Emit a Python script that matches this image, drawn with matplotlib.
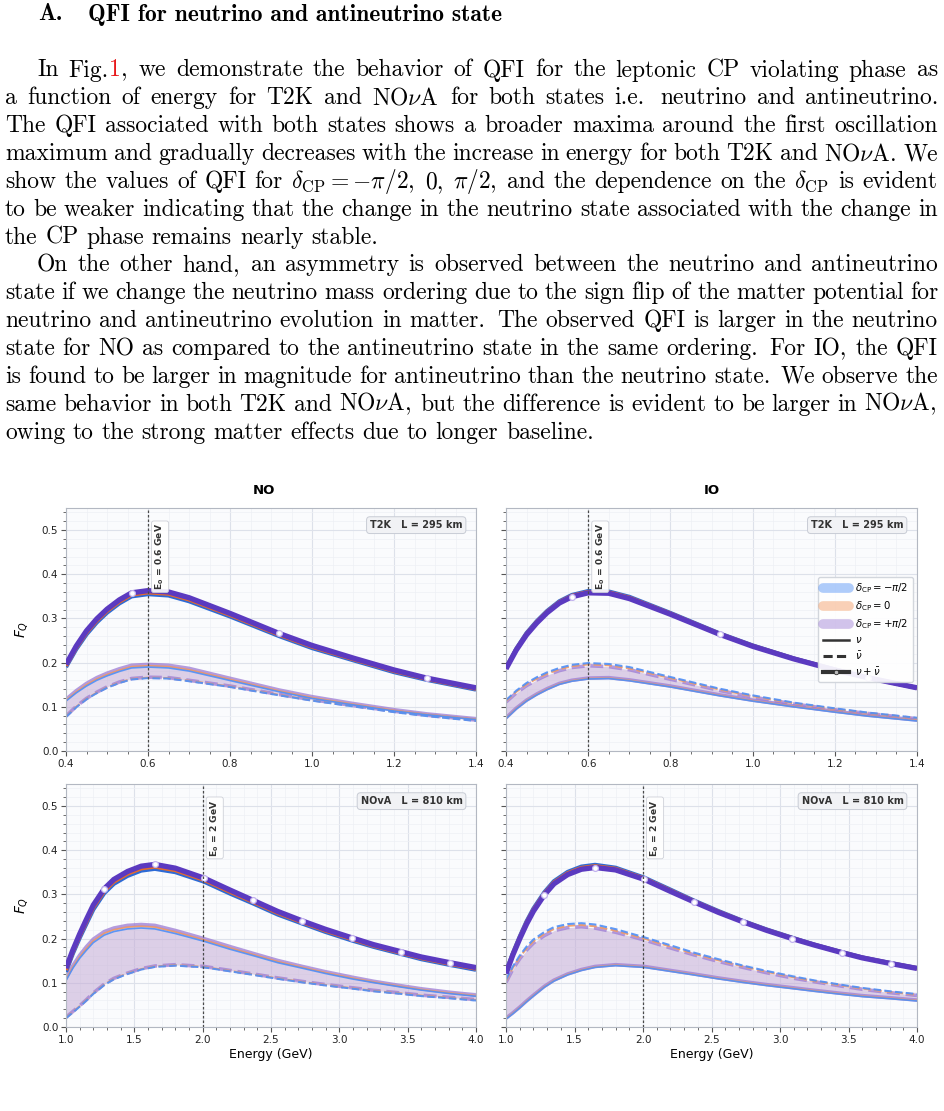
import numpy as np
import matplotlib
matplotlib.use("Agg")
import matplotlib.pyplot as plt
from matplotlib.ticker import AutoMinorLocator, MultipleLocator
from matplotlib.lines import Line2D

# ------------------------------------------------------------------ data
E_T2K = [0.40, 0.425, 0.45, 0.475, 0.50, 0.53, 0.56, 0.60, 0.65, 0.70,
         0.80, 0.92, 1.00, 1.10, 1.20, 1.28, 1.40]
E_NOVA = [1.00, 1.05, 1.10, 1.15, 1.20, 1.28, 1.35, 1.45, 1.55, 1.65, 1.80,
          2.01, 2.20, 2.37, 2.55, 2.73, 2.90, 3.09, 3.25, 3.45, 3.60, 3.81, 4.00]
T2K_MARK_IDX = [6, 11, 15]
NOVA_MARK_IDX = [5, 9, 11, 13, 15, 17, 19, 21]

# NO, T2K  (delta_CP = 0 curve and half-spread of the three delta_CP curves)
NO_T2K_NU = [0.115, 0.134, 0.150, 0.163, 0.173, 0.183, 0.191, 0.193, 0.191, 0.184,
             0.162, 0.136, 0.121, 0.106, 0.092, 0.083, 0.072]
NO_T2K_NUBAR = [0.078, 0.100, 0.118, 0.132, 0.144, 0.155, 0.163, 0.166, 0.165, 0.159,
                0.146, 0.127, 0.115, 0.102, 0.089, 0.080, 0.069]
NO_T2K_NU_SPREAD = [0.002, 0.0025, 0.003, 0.003, 0.003, 0.003, 0.003, 0.003, 0.003,
                    0.003, 0.0025, 0.002, 0.002, 0.0015, 0.0015, 0.001, 0.001]
NO_T2K_NUBAR_SPREAD = [0.001, 0.001, 0.001, 0.001, 0.001, 0.001, 0.001, 0.001, 0.001,
                       0.001, 0.001, 0.001, 0.001, 0.001, 0.001, 0.001, 0.001]

# IO, T2K
IO_T2K_NU = [0.074, 0.096, 0.114, 0.128, 0.140, 0.152, 0.159, 0.164, 0.165, 0.160,
             0.146, 0.126, 0.114, 0.101, 0.089, 0.080, 0.069]
IO_T2K_NUBAR = [0.113, 0.134, 0.151, 0.164, 0.175, 0.185, 0.192, 0.196, 0.194, 0.187,
                0.165, 0.139, 0.124, 0.108, 0.095, 0.086, 0.074]
IO_T2K_NU_SPREAD = [0.001, 0.001, 0.001, 0.001, 0.001, 0.001, 0.001, 0.001, 0.001,
                    0.001, 0.001, 0.001, 0.001, 0.001, 0.001, 0.001, 0.001]
IO_T2K_NUBAR_SPREAD = [-0.002, -0.0025, -0.003, -0.003, -0.003, -0.003, -0.003, -0.003,
                       -0.003, -0.003, -0.0025, -0.002, -0.002, -0.0015, -0.0015,
                       -0.001, -0.001]

# NO, NOvA
NO_NOVA_NU = [0.108, 0.136, 0.159, 0.178, 0.195, 0.212, 0.220, 0.226, 0.228, 0.226,
              0.215, 0.197, 0.179, 0.164, 0.148, 0.135, 0.123, 0.111, 0.102, 0.092,
              0.085, 0.077, 0.071]
NO_NOVA_NUBAR = [0.021, 0.034, 0.047, 0.061, 0.076, 0.096, 0.109, 0.121, 0.131, 0.137,
                 0.140, 0.136, 0.127, 0.119, 0.110, 0.102, 0.095, 0.088, 0.082, 0.076,
                 0.071, 0.066, 0.061]
NO_NOVA_NU_SPREAD = [0.003, 0.003, 0.0035, 0.004, 0.004, 0.004, 0.004, 0.004, 0.004,
                     0.004, 0.0035, 0.003, 0.003, 0.0025, 0.0025, 0.002, 0.002, 0.002,
                     0.0015, 0.0015, 0.0015, 0.0015, 0.0015]
NO_NOVA_NUBAR_SPREAD = [0.001, 0.001, 0.001, 0.001, 0.001, 0.001, 0.001, 0.001, 0.001,
                        0.001, 0.001, 0.001, 0.001, 0.001, 0.001, 0.001, 0.001, 0.001,
                        0.001, 0.001, 0.001, 0.001, 0.001]

# IO, NOvA
IO_NOVA_NU = [0.019, 0.031, 0.044, 0.058, 0.071, 0.091, 0.105, 0.119, 0.129, 0.136,
              0.140, 0.136, 0.127, 0.119, 0.110, 0.102, 0.095, 0.088, 0.082, 0.075,
              0.070, 0.065, 0.060]
IO_NOVA_NUBAR = [0.104, 0.134, 0.158, 0.178, 0.194, 0.211, 0.222, 0.229, 0.231, 0.228,
                 0.218, 0.200, 0.182, 0.166, 0.151, 0.137, 0.125, 0.113, 0.104, 0.094,
                 0.087, 0.079, 0.073]
IO_NOVA_NU_SPREAD = [0.001, 0.001, 0.001, 0.001, 0.001, 0.001, 0.001, 0.001, 0.001,
                     0.001, 0.001, 0.001, 0.001, 0.001, 0.001, 0.001, 0.001, 0.001,
                     0.001, 0.001, 0.001, 0.001, 0.001]
IO_NOVA_NUBAR_SPREAD = [-0.003, -0.003, -0.0035, -0.004, -0.004, -0.004, -0.004, -0.004,
                        -0.004, -0.004, -0.0035, -0.003, -0.003, -0.0025, -0.0025,
                        -0.002, -0.002, -0.002, -0.0015, -0.0015, -0.0015, -0.0015,
                        -0.0015]

DELTA_LABELS = [r"$\delta_{\rm CP} = -\pi/2$", r"$\delta_{\rm CP} = 0$",
                r"$\delta_{\rm CP} = +\pi/2$"]
STATE_LABELS = [r"$\nu$", r"$\bar{\nu}$", r"$\nu + \bar{\nu}$"]
COLUMN_TITLES = ["NO", "IO"]
EXPERIMENTS = ["T2K   L = 295 km", "NOvA   L = 810 km"]
E0_VALUES = [0.6, 2.0]
E0_LABELS = [r"E$_\mathbf{0}$ = 0.6 GeV", r"E$_\mathbf{0}$ = 2 GeV"]
XLABEL = "Energy (GeV)"
YLABEL = r"$F_Q$"

HEADING_NUM = "A."
HEADING = "QFI for neutrino and antineutrino state"
# (first line of paragraph?, justified?, text)  -- text between § is a red link
BODY_LINES = [
    (True, True, "In Fig.§1§, we demonstrate the behavior of QFI for the leptonic CP violating phase as"),
    (False, True, r"a function of energy for T2K and NO$\nu$A for both states i.e. neutrino and antineutrino."),
    (False, True, "The QFI associated with both states shows a broader maxima around the first oscillation"),
    (False, True, r"maximum and gradually decreases with the increase in energy for both T2K and NO$\nu$A. We"),
    (False, True, r"show the values of QFI for $\delta_\mathrm{CP}=-\pi/2$, 0, $\pi/2$, and the dependence on the $\delta_\mathrm{CP}$ is evident"),
    (False, True, "to be weaker indicating that the change in the neutrino state associated with the change in"),
    (False, False, "the CP phase remains nearly stable."),
    (True, True, "On the other hand, an asymmetry is observed between the neutrino and antineutrino"),
    (False, True, "state if we change the neutrino mass ordering due to the sign flip of the matter potential for"),
    (False, True, "neutrino and antineutrino evolution in matter. The observed QFI is larger in the neutrino"),
    (False, True, "state for NO as compared to the antineutrino state in the same ordering. For IO, the QFI"),
    (False, True, "is found to be larger in magnitude for antineutrino than the neutrino state. We observe the"),
    (False, True, r"same behavior in both T2K and NO$\nu$A, but the difference is evident to be larger in NO$\nu$A,"),
    (False, False, "owing to the strong matter effects due to longer baseline."),
]

# ------------------------------------------------------------------ style
W, H = 944, 1111
BLUE_T, ORANGE_T, PURPLE_T = "#4f8ff7", "#f39a62", "#9c7bd4"
BLUE_S, ORANGE_S, PURPLE_S = "#2c6ad6", "#e56a2c", "#5b3ac0"
FILL = "#c4acd6"
AX_BG = "#fafbfd"

fig = plt.figure(figsize=(W / 100, H / 100), dpi=100)
fig.patch.set_facecolor("white")
renderer = fig.canvas.get_renderer()


def fx(x):
    return x / W


def fy(y):
    return 1 - y / H


# ------------------------------------------------------------------ body text
BODY_FAM = "cmr10"
BOLD_FAM = "cmb10"
RED = "#e8191c"


def tw(s, size, fam):
    t = fig.text(0, 0, s, fontsize=size, family=fam, math_fontfamily="cm")
    w = t.get_window_extent(renderer=renderer).width
    t.remove()
    return w


def segments(word):
    parts = word.split("§")
    out = []
    for i, p in enumerate(parts):
        if p:
            out.append((p, RED if i % 2 == 1 else "black"))
    return out


def gap_weight(word):
    clean = word.replace("§", "").replace("$", "")
    if clean.endswith(".") and len(clean) > 1 and clean[-2].islower():
        return 1.5
    if clean.endswith(","):
        return 1.1
    return 1.0


LEFT, RIGHT, INDENT = 5.0, 938.0, 32.0
REF = 10.0
lines_words = [ln[2].split(" ") for ln in BODY_LINES]
seg_w10 = [[[tw(s, REF, BODY_FAM) for s, _ in segments(w)] for w in words]
           for words in lines_words]
space10 = 0.333 * REF * 100 / 72
cands = []
for (first, just, _), words, sw in zip(BODY_LINES, lines_words, seg_w10):
    if not just:
        continue
    avail = RIGHT - LEFT - (INDENT if first else 0)
    wsum = sum(sum(s) for s in sw)
    gw = sum(gap_weight(w) for w in words[:-1])
    cands.append(REF * avail / (wsum + gw * space10))
fs = float(np.median(cands))

y0, dy = 76.5, 27.85
for i, ((first, just, _), words, sw) in enumerate(zip(BODY_LINES, lines_words, seg_w10)):
    scale = fs / REF
    x = LEFT + (INDENT if first else 0)
    avail = RIGHT - x
    wsum = sum(sum(s) for s in sw) * scale
    weights = [gap_weight(w) for w in words[:-1]]
    if just:
        g = (avail - wsum) / sum(weights)
    else:
        g = 0.333 * fs * 100 / 72
    yb = y0 + i * dy
    for j, (w, s) in enumerate(zip(words, sw)):
        xx = x
        for (txt, col), ww in zip(segments(w), s):
            fig.text(fx(xx), fy(yb), txt, fontsize=fs, family=BODY_FAM,
                     math_fontfamily="cm", color=col, ha="left", va="baseline")
            xx += ww * scale
        x += sum(s) * scale
        if j < len(weights):
            x += g * weights[j]

fig.text(fx(38), fy(20.5), HEADING_NUM, fontsize=fs, family=BOLD_FAM,
         ha="left", va="baseline")
fig.text(fx(88), fy(20.5), HEADING, fontsize=fs, family=BOLD_FAM,
         ha="left", va="baseline")

# ------------------------------------------------------------------ chart
panels = [
    # (col, row, E, nu, nubar, s_nu, s_nubar, marks, xlim, xmajor)
    (0, 0, E_T2K, NO_T2K_NU, NO_T2K_NUBAR, NO_T2K_NU_SPREAD, NO_T2K_NUBAR_SPREAD,
     T2K_MARK_IDX, (0.4, 1.4), 0.2),
    (1, 0, E_T2K, IO_T2K_NU, IO_T2K_NUBAR, IO_T2K_NU_SPREAD, IO_T2K_NUBAR_SPREAD,
     T2K_MARK_IDX, (0.4, 1.4), 0.2),
    (0, 1, E_NOVA, NO_NOVA_NU, NO_NOVA_NUBAR, NO_NOVA_NU_SPREAD, NO_NOVA_NUBAR_SPREAD,
     NOVA_MARK_IDX, (1.0, 4.0), 0.5),
    (1, 1, E_NOVA, IO_NOVA_NU, IO_NOVA_NUBAR, IO_NOVA_NU_SPREAD, IO_NOVA_NUBAR_SPREAD,
     NOVA_MARK_IDX, (1.0, 4.0), 0.5),
]
AX_LEFT = [66, 506]
AX_WIDTH = [410, 411]
AX_BOTTOM = [751, 1027]
AX_HEIGHT = 243

axes = {}
for col, row, E, nu, nub, snu, snub, marks, xlim, xmaj in panels:
    ax = fig.add_axes([fx(AX_LEFT[col]), fy(AX_BOTTOM[row]),
                       AX_WIDTH[col] / W, AX_HEIGHT / H])
    axes[(col, row)] = ax
    ax.set_facecolor(AX_BG)
    E = np.asarray(E)
    nu, nub = np.asarray(nu), np.asarray(nub)
    snu, snub = np.asarray(snu), np.asarray(snub)
    nus = [nu - snu, nu, nu + snu]
    nubs = [nub - snub, nub, nub + snub]

    ax.fill_between(E, nus[2], nubs[2], color=FILL, alpha=0.55, lw=0, zorder=1.5)
    thin = [BLUE_T, ORANGE_T, PURPLE_T]
    for k in (2, 1, 0):
        lw = 2.6 if k == 2 else 1.2
        al = 0.75 if k == 2 else 0.9
        ax.plot(E, nus[k], color=thin[k], lw=lw, alpha=al, ls="-", zorder=2 + (2 - k) * 0.1)
        ax.plot(E, nubs[k], color=thin[k], lw=lw if k == 2 else 1.5, alpha=al,
                ls=(0, (3.6, 1.6)), zorder=2 + (2 - k) * 0.1)
    thick = [BLUE_S, ORANGE_S, PURPLE_S]
    for k in range(3):
        tot = nus[k] + nubs[k]
        if k == 2:
            ax.plot(E, tot, color=thick[k], lw=3.8, zorder=5 + k,
                    marker="o", markevery=marks, ms=4.2, mfc="white",
                    mec="#c2b2ee", mew=0.9, solid_capstyle="butt")
        else:
            ax.plot(E, tot, color=thick[k], lw=3.0, zorder=5 + k,
                    solid_capstyle="butt")

    E0 = E0_VALUES[row]
    ax.axvline(E0, color="#4a4a4a", ls=(0, (2, 1.6)), lw=0.9, zorder=8)
    ax.annotate(E0_LABELS[row], xy=(E0, 1.0), xycoords=("data", "axes fraction"),
                xytext=(4.2, -11), textcoords="offset points", rotation=90,
                ha="left", va="top", fontsize=6.6, fontweight="bold", color="#333333",
                bbox=dict(boxstyle="round,pad=0.25", fc="white", ec="#c9ccd4",
                          lw=0.6, alpha=0.9), zorder=9)
    ax.text(0.967, 0.95, EXPERIMENTS[row], transform=ax.transAxes, ha="right",
            va="top", fontsize=7, fontweight="bold", color="#333333",
            bbox=dict(boxstyle="round,pad=0.35", fc="#f1f2f5", ec="#c8ccd5", lw=0.7),
            zorder=9)

    ax.set_xlim(*xlim)
    ax.set_ylim(0, 0.55)
    ax.xaxis.set_major_locator(MultipleLocator(xmaj))
    ax.yaxis.set_major_locator(MultipleLocator(0.1))
    ax.xaxis.set_minor_locator(AutoMinorLocator())
    ax.yaxis.set_minor_locator(AutoMinorLocator())
    ax.set_axisbelow(True)
    ax.grid(which="major", color="#dde1ea", lw=0.8)
    ax.grid(which="minor", color="#eef0f5", lw=0.5)
    for sp in ax.spines.values():
        sp.set_color("#b3b8c2")
        sp.set_linewidth(0.8)
    ax.tick_params(which="both", direction="out", color="#555555",
                   labelsize=7.5, labelcolor="#222222")
    ax.tick_params(which="major", length=3.5, width=0.8, pad=2)
    ax.tick_params(which="minor", length=2, width=0.6)
    if col == 1:
        ax.tick_params(labelleft=False)
    else:
        ax.set_ylabel(YLABEL, fontsize=10)
        ax.yaxis.set_label_coords(-0.088, 0.5)
    if row == 1:
        ax.set_xlabel(XLABEL, fontsize=9)
        ax.xaxis.set_label_coords(0.5, -0.085)

for col, title in enumerate(COLUMN_TITLES):
    cx = [264, 712][col]
    fig.text(fx(cx), fy(491), title, ha="center", va="center",
             fontsize=9.5, fontweight="bold")

leg_colors = [BLUE_T, ORANGE_T, PURPLE_T]
handles = [Line2D([0], [0], color=c, lw=7, alpha=0.45, solid_capstyle="round")
           for c in leg_colors]
handles += [Line2D([0], [0], color="#333333", lw=1.8, ls="-"),
            Line2D([0], [0], color="#333333", lw=2.2, ls=(0, (3, 1.4))),
            Line2D([0], [0], color="#333333", lw=3, ls="-", marker="o", ms=3.2,
                   mfc="#bbbbbb", mec="#333333", mew=0.6)]
leg = axes[(1, 0)].legend(handles, DELTA_LABELS + STATE_LABELS, loc="center right",
                          fontsize=7.3, frameon=True, framealpha=0.92,
                          edgecolor="#cfd3da", handlelength=2.6, labelspacing=0.42,
                          borderpad=0.45, borderaxespad=0.4, numpoints=1,
                          handletextpad=0.6)
leg.set_zorder(20)

fig.savefig("out.png", dpi=100)
